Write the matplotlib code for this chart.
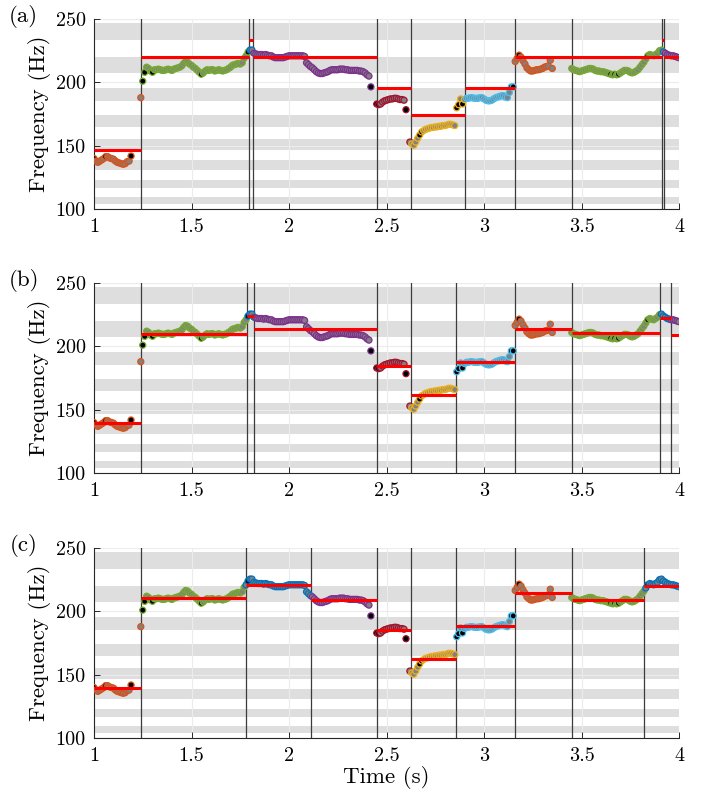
"""Pitch track with three different segmentations (a), (b), (c)."""
import numpy as np
import matplotlib.pyplot as plt

plt.rcParams['font.family'] = 'cmr10'
plt.rcParams['axes.formatter.use_mathtext'] = True
plt.rcParams['mathtext.fontset'] = 'cm'

# pitch track, one value every 10 ms starting at 1.00 s (nan = no pitch)
t_start, t_step = 1.0, 0.01
f0 = [
    140, 138, 137, 138, 139, 140, 141.5, 141.5, 140.5, 140,                 # 1.00
    139.5, 138, 137, 136.5, 136, 135.5, 136, 137.5, 138, 142,               # 1.10
    np.nan, np.nan, np.nan, np.nan, 188, 201, 208, 212, 211, 209,           # 1.20
    208, 210, 210, 210.5, 210, 209.5, 209.5, 210, 210.5, 210,               # 1.30
    209.5, 210.5, 211, 211.5, 212, 213, 215, 216.5, 216, 214.5,             # 1.40
    213.5, 212, 211, 209.5, 208, 206.5, 207.5, 209, 210, 209.5,             # 1.50
    210, 210, 209, 209.5, 210, 209.5, 209, 209.5, 210, 211,                 # 1.60
    212, 213.5, 214, 214.5, 215, 214.5, 215.5, 219, 221, 224,               # 1.70
    225.5, 225.5, 223, 222.5, 222, 222, 222, 221.5, 222, 221.5,             # 1.80
    221, 221, 220, 219.5, 219.5, 219.5, 219.5, 219.5, 220, 220.5,           # 1.90
    221, 221, 221, 221, 221, 221, 221, 221, 220.5, 215.5,                   # 2.00
    214, 212.5, 211.5, 210, 208.5, 207.5, 207, 207, 207.5, 208,             # 2.10
    208.5, 209.5, 210, 210, 210, 210, 210.5, 210.5, 210.5, 210,             # 2.20
    210, 209.5, 209.5, 209.5, 209.5, 209.5, 209, 209, 208.5, 207.5,         # 2.30
    206, 205, 196.5, np.nan, np.nan, 183, 182.5, 183, 184.5, 185.5,         # 2.40
    186, 186.5, 187, 187, 187.5, 187.5, 187, 186.5, 186.5, 186,             # 2.50
    178.5, np.nan, 153, 151.5, 150.5, 153, 156, 158.5, 161, 162,            # 2.60
    163, 163.5, 164, 164.5, 164.5, 165, 165, 165.5, 165.5, 166,             # 2.70
    166, 166.5, 167, 167, 166.5, 166, 180, 182.5, 187, 183,                 # 2.80
    186.5, 187.5, 187.5, 188, 188, 187.5, 187.5, 187.5, 188, 188,           # 2.90
    187, 186, 185.5, 185.5, 186, 187, 188, 188.5, 189, 189.5,               # 3.00
    189.5, 188.5, 188, 192, 196.5, 196.5, 216.5, 219, 221.5, 220,           # 3.10
    217, 214.5, 211.5, 210, 209, 209, 209.5, 210, 210, 210.5,               # 3.20
    211, 212, 212.5, 213, 217.5, 211, np.nan, np.nan, np.nan, np.nan,       # 3.30
    np.nan, np.nan, np.nan, np.nan, np.nan, 211, 210, 209.5, 209, 208.5,    # 3.40
    209, 209.5, 210, 210.5, 211, 211, 210.5, 209.5, 209, 209,               # 3.50
    208.5, 208.5, 208, 207.5, 207, 206.5, 206, 206.5, 206, 206.5,           # 3.60
    207.5, 208.5, 209.5, 209.5, 209, 208, 207.5, 208, 209, 210,             # 3.70
    212, 214, 216, 218.5, 221, 222, 221.5, 221, 222, 223,                   # 3.80
    225, 225.5, 224, 223, 222, 221.5, 221, 221, 220.5, 220,                 # 3.90
    219.5,                                                                  # 4.00
]
# frames drawn with a black face
black_times = [1.00, 1.06, 1.19, 1.25, 1.26, 1.30, 1.55, 1.79, 2.42, 2.45, 2.46,
               2.60, 2.67, 2.68, 2.86, 2.87, 2.89, 3.14, 3.15, 3.18, 3.65,
               3.67, 3.69, 3.84]

# semitones G#2 .. B3, every other interval is shaded
note_hz = [103.83, 110.00, 116.54, 123.47, 130.81, 138.59, 146.83, 155.56,
           164.81, 174.61, 185.00, 196.00, 207.65, 220.00, 233.08, 246.94]

# segmentations: boundaries (s), segment level (Hz), colour
bounds_a = [1.0, 1.241, 1.797, 1.814, 2.45, 2.624, 2.904, 3.159, 3.449, 3.914, 3.925, 4.0]
levels_a = [146.83, 220.0, 233.08, 220.0, 196.0, 174.61, 196.0, 220.0, 220.0, 233.08, 220.0]
colors_a = ['orange', 'green', 'blue', 'purple', 'darkred', 'yellow', 'lightblue',
            'orange', 'green', 'blue', 'purple']

bounds_b = [1.0, 1.241, 1.786, 1.822, 2.45, 2.624, 2.856, 3.159, 3.449, 3.903, 3.959, 4.0]
levels_b = [139.6, 209.8, 223.7, 213.7, 184.6, 161.7, 188.0, 213.5, 210.3, 222.4, 209.0]
colors_b = colors_a

bounds_c = [1.0, 1.241, 1.778, 2.113, 2.45, 2.624, 2.856, 3.159, 3.449, 3.822, 4.0]
levels_c = [140.0, 210.2, 220.8, 209.0, 185.0, 162.4, 188.7, 214.2, 209.0, 219.7]
colors_c = ['orange', 'green', 'blue', 'purple', 'darkred', 'yellow', 'lightblue',
            'orange', 'green', 'blue']

palette = {
    'blue': '#0072BD', 'orange': '#D95319', 'yellow': '#EDB120',
    'purple': '#7E2F8E', 'green': '#77AC30', 'lightblue': '#4DBEEE',
    'darkred': '#A2142F',
}

t = np.round(t_start + t_step * np.arange(len(f0)), 2)
f = np.array(f0, dtype=float)
is_black = np.isin(t, np.round(black_times, 2))


def draw_panel(ax, bounds, levels, colors, label):
    for lo, hi in zip(note_hz[0::2], note_hz[1::2]):
        ax.axhspan(lo, hi, color='#dedede', lw=0, zorder=0.5)
    ax.set_axisbelow('line')
    ax.grid(True, color='#ececec', lw=0.8)

    for b in bounds[1:-1]:
        ax.axvline(b, color='#3c3c3c', lw=0.9, zorder=2)

    seg = np.clip(np.searchsorted(bounds, t, side='right') - 1, 0, len(levels) - 1)
    ok = ~np.isnan(f)
    edge = [palette[colors[s]] for s in seg[ok]]
    face = np.where(is_black[ok], 'black', '#808080')
    ax.scatter(t[ok], f[ok], s=19, facecolors=face, edgecolors=edge,
               linewidths=0.9, zorder=3)

    for b0, b1, lev in zip(bounds[:-1], bounds[1:], levels):
        ax.hlines(lev, b0, b1, color='red', lw=2.2, zorder=4)

    ax.set_xlim(1, 4)
    ax.set_ylim(100, 250)
    ax.set_xticks([1, 1.5, 2, 2.5, 3, 3.5, 4])
    ax.set_xticklabels(['1', '1.5', '2', '2.5', '3', '3.5', '4'])
    ax.set_yticks([100, 150, 200, 250])
    ax.set_yticklabels(['100', '150', '200', '250'])
    ax.tick_params(direction='in', length=4, width=0.7, labelsize=14.5,
                   color='#262626', pad=6)
    for side in ('top', 'right'):
        ax.spines[side].set_visible(False)
    for side in ('left', 'bottom'):
        ax.spines[side].set_color('#262626')
        ax.spines[side].set_linewidth(0.8)
    ax.set_ylabel('Frequency (Hz)', fontsize=16.5, labelpad=3)
    ax.text(-0.12, 1.015, label, transform=ax.transAxes, fontsize=16.5,
            ha='center', va='center')


fig = plt.figure(figsize=(7.02, 7.96), dpi=100)
left, width, height = 94 / 702, 585 / 702, 190.3 / 796
ax_a = fig.add_axes([left, 1 - 209.3 / 796, width, height])
ax_b = fig.add_axes([left, 1 - 473.3 / 796, width, height])
ax_c = fig.add_axes([left, 1 - 738.3 / 796, width, height])

draw_panel(ax_a, bounds_a, levels_a, colors_a, '(a)')
draw_panel(ax_b, bounds_b, levels_b, colors_b, '(b)')
draw_panel(ax_c, bounds_c, levels_c, colors_c, '(c)')
ax_c.set_xlabel('Time (s)', fontsize=16.5, labelpad=1)

fig.savefig('out.png', dpi=100)
